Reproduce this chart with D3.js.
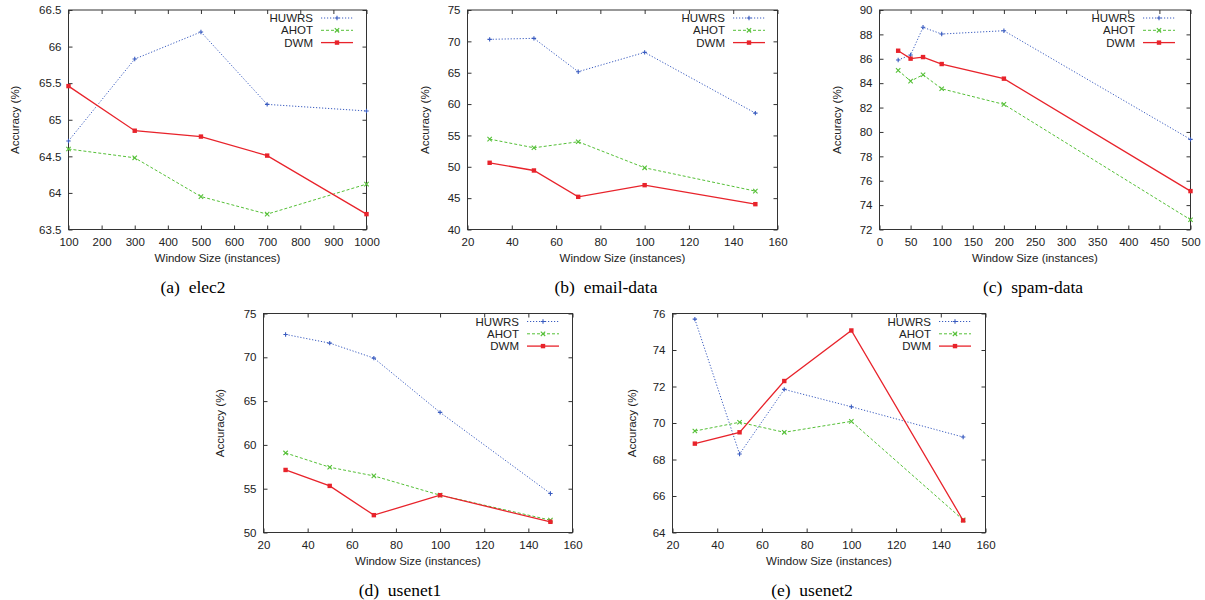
<!DOCTYPE html>
<html>
<head>
<meta charset="utf-8">
<script src="https://cdn.jsdelivr.net/npm/d3@7"></script>
<style>
  body { margin: 0; background: #fff; }
  svg text { font-family: "Liberation Sans", Arial, sans-serif; }
</style>
</head>
<body>
<svg width="1205" height="600"></svg>
<script>
/////////////////////////
// Données
/////////////////////////

var seriesNames = ["HUWRS", "AHOT", "DWM"];

// (a) elec2
var elec2X = [100, 300, 500, 700, 1000];
var elec2HUWRS = [64.71, 65.83, 66.20, 65.21, 65.12];
var elec2AHOT = [64.60, 64.48, 63.95, 63.71, 64.12];
var elec2DWM = [65.46, 64.85, 64.77, 64.51, 63.71];
var elec2XTicks = [100, 200, 300, 400, 500, 600, 700, 800, 900, 1000];
var elec2YTicks = [63.5, 64, 64.5, 65, 65.5, 66, 66.5];

// (b) email-data
var emailX = [30, 50, 70, 100, 150];
var emailHUWRS = [70.32, 70.48, 65.16, 68.24, 58.56];
var emailAHOT = [54.41, 53.03, 53.99, 49.84, 46.12];
var emailDWM = [50.64, 49.41, 45.21, 47.07, 44.04];
var emailXTicks = [20, 40, 60, 80, 100, 120, 140, 160];
var emailYTicks = [40, 45, 50, 55, 60, 65, 70, 75];

// (c) spam-data
var spamX = [30, 50, 70, 100, 200, 500];
var spamHUWRS = [85.90, 86.31, 88.58, 88.03, 88.30, 79.39];
var spamAHOT = [85.05, 84.17, 84.69, 83.54, 82.26, 72.80];
var spamDWM = [86.66, 86.01, 86.14, 85.57, 84.37, 75.15];
var spamXTicks = [0, 50, 100, 150, 200, 250, 300, 350, 400, 450, 500];
var spamYTicks = [72, 74, 76, 78, 80, 82, 84, 86, 88, 90];

// (d) usenet1
var usenet1X = [30, 50, 70, 100, 150];
var usenet1HUWRS = [72.61, 71.62, 69.91, 63.71, 54.45];
var usenet1AHOT = [59.08, 57.45, 56.46, 54.26, 51.41];
var usenet1DWM = [57.14, 55.32, 51.98, 54.26, 51.22];
var usenet1XTicks = [20, 40, 60, 80, 100, 120, 140, 160];
var usenet1YTicks = [50, 55, 60, 65, 70, 75];

// (e) usenet2
var usenet2X = [30, 50, 70, 100, 150];
var usenet2HUWRS = [75.69, 68.30, 71.84, 70.89, 69.23];
var usenet2AHOT = [69.56, 70.04, 69.49, 70.09, 64.69];
var usenet2DWM = [68.87, 69.49, 72.30, 75.07, 64.66];
var usenet2XTicks = [20, 40, 60, 80, 100, 120, 140, 160];
var usenet2YTicks = [64, 66, 68, 70, 72, 74, 76];

/////////////////////////
// Styles des séries
/////////////////////////

var styles = {
    HUWRS: { color: "#3a5cc0", dash: "1.2,1.8", width: 1, marker: "plus" },
    AHOT:  { color: "#55c037", dash: "3,2", width: 1, marker: "cross" },
    DWM:   { color: "#e8232b", dash: null, width: 1.3, marker: "square" }
};

var panels = [
    { caption: "(a)\u00a0\u00a0elec2", x: elec2X, ys: [elec2HUWRS, elec2AHOT, elec2DWM],
      xt: elec2XTicks, yt: elec2YTicks, fmtY: function(d){ return d % 1 ? d.toFixed(1) : d; },
      box: { l: 68.5, r: 366.5, t: 10, b: 229.5 }, ytitleX: 15, legendX: 313, capX: 193 },
    { caption: "(b)\u00a0\u00a0email-data", x: emailX, ys: [emailHUWRS, emailAHOT, emailDWM],
      xt: emailXTicks, yt: emailYTicks,
      box: { l: 467.5, r: 777.5, t: 10, b: 229.5 }, ytitleX: 425, legendX: 725, capX: 606 },
    { caption: "(c)\u00a0\u00a0spam-data", x: spamX, ys: [spamHUWRS, spamAHOT, spamDWM],
      xt: spamXTicks, yt: spamYTicks,
      box: { l: 879.5, r: 1190.5, t: 10, b: 229.5 }, ytitleX: 837, legendX: 1135, capX: 1033 },
    { caption: "(d)\u00a0\u00a0usenet1", x: usenet1X, ys: [usenet1HUWRS, usenet1AHOT, usenet1DWM],
      xt: usenet1XTicks, yt: usenet1YTicks,
      box: { l: 263.5, r: 572.5, t: 313.5, b: 532.5 }, ytitleX: 220, legendX: 519, capX: 400 },
    { caption: "(e)\u00a0\u00a0usenet2", x: usenet2X, ys: [usenet2HUWRS, usenet2AHOT, usenet2DWM],
      xt: usenet2XTicks, yt: usenet2YTicks,
      box: { l: 672.5, r: 985.5, t: 313.5, b: 532.5 }, ytitleX: 632, legendX: 931, capX: 812 }
];

var svg = d3.select("svg");

function drawMarker(g, kind, x, y, color) {
    var s = 2.2;
    if (kind === "plus") {
        g.append("path").attr("d", "M" + (x - s) + "," + y + "H" + (x + s) + "M" + x + "," + (y - s) + "V" + (y + s))
            .attr("stroke", color).attr("stroke-width", 1.1).attr("fill", "none");
    } else if (kind === "cross") {
        g.append("path").attr("d", "M" + (x - s) + "," + (y - s) + "L" + (x + s) + "," + (y + s) +
                                   "M" + (x - s) + "," + (y + s) + "L" + (x + s) + "," + (y - s))
            .attr("stroke", color).attr("stroke-width", 1.1).attr("fill", "none");
    } else {
        g.append("rect").attr("x", x - 2.2).attr("y", y - 2.2).attr("width", 4.4).attr("height", 4.4)
            .attr("fill", color);
    }
}

panels.forEach(function(p) {
    var b = p.box;
    var xs = d3.scaleLinear().domain(d3.extent(p.xt)).range([b.l, b.r]);
    var ys = d3.scaleLinear().domain(d3.extent(p.yt)).range([b.b, b.t]);
    var g = svg.append("g").attr("class", "panel");
    var tick = 4;

    // axes (ticks vers l'intérieur, en miroir comme gnuplot)
    var axB = d3.axisBottom(xs).tickValues(p.xt).tickSizeInner(-tick).tickSizeOuter(0).tickPadding(8)
        .tickFormat(d3.format("d"));
    var axT = d3.axisTop(xs).tickValues(p.xt).tickSizeInner(-tick).tickSizeOuter(0).tickFormat("");
    var axL = d3.axisLeft(ys).tickValues(p.yt).tickSizeInner(-tick).tickSizeOuter(0).tickPadding(7)
        .tickFormat(p.fmtY || d3.format("d"));
    var axR = d3.axisRight(ys).tickValues(p.yt).tickSizeInner(-tick).tickSizeOuter(0).tickFormat("");

    [[axB, "translate(0," + b.b + ")"], [axT, "translate(0," + b.t + ")"],
     [axL, "translate(" + b.l + ",0)"], [axR, "translate(" + b.r + ",0)"]].forEach(function(a) {
        var ag = g.append("g").attr("transform", a[1]).call(a[0]);
        ag.select(".domain").remove();
        ag.selectAll("line").attr("stroke", "#333");
        ag.selectAll("text").attr("font-size", 11.5).attr("fill", "#222")
            .style("font-family", "'Liberation Sans', Arial, sans-serif");
    });

    g.append("rect").attr("x", b.l).attr("y", b.t).attr("width", b.r - b.l).attr("height", b.b - b.t)
        .attr("fill", "none").attr("stroke", "#333").attr("stroke-width", 1);

    // titres
    g.append("text").attr("x", (b.l + b.r) / 2).attr("y", b.b + 32).attr("text-anchor", "middle")
        .attr("font-size", 11.5).attr("fill", "#222").text("Window Size (instances)");
    g.append("text").attr("transform", "translate(" + p.ytitleX + "," + ((b.t + b.b) / 2) + ") rotate(-90)")
        .attr("text-anchor", "middle").attr("dy", "0.35em")
        .attr("font-size", 11.5).attr("fill", "#222").text("Accuracy (%)");
    g.append("text").attr("x", p.capX).attr("y", b.b + 63).attr("text-anchor", "middle")
        .attr("font-size", 17.5).attr("fill", "#000")
        .style("font-family", "'Liberation Serif', 'Times New Roman', serif").text(p.caption);

    // séries
    var line = d3.line().x(function(d){ return xs(d[0]); }).y(function(d){ return ys(d[1]); });
    seriesNames.forEach(function(name, i) {
        var st = styles[name];
        var pts = p.x.map(function(x, j){ return [x, p.ys[i][j]]; });
        g.append("path").datum(pts).attr("d", line).attr("fill", "none")
            .attr("stroke", st.color).attr("stroke-width", st.width)
            .attr("stroke-dasharray", st.dash);
        pts.forEach(function(d){ drawMarker(g, st.marker, xs(d[0]), ys(d[1]), st.color); });

        // légende
        var ly = b.t + 8 + i * 12.3;
        g.append("text").attr("x", p.legendX).attr("y", ly).attr("dy", "0.35em").attr("text-anchor", "end")
            .attr("font-size", 11.5).attr("fill", "#222").text(name);
        g.append("line").attr("x1", p.legendX + 8).attr("x2", p.legendX + 40).attr("y1", ly).attr("y2", ly)
            .attr("stroke", st.color).attr("stroke-width", st.width).attr("stroke-dasharray", st.dash);
        drawMarker(g, st.marker, p.legendX + 24, ly, st.color);
    });
});
</script>
</body>
</html>
